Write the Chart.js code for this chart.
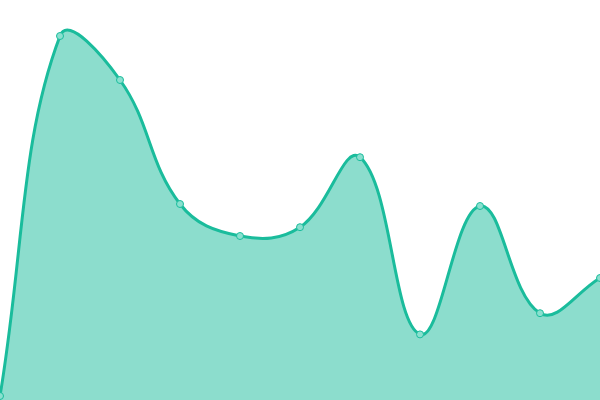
<!DOCTYPE html>
<html>
<head>
<meta charset="utf-8">
<script src="https://cdn.jsdelivr.net/npm/chart.js@4/dist/chart.umd.min.js"></script>
<style>
  html, body { margin: 0; padding: 0; background: #fff; }
  #wrap { width: 600px; height: 400px; }
</style>
</head>
<body>
<div id="wrap"><canvas id="areaChart"></canvas></div>
<script>
const labels = ['1', '2', '3', '4', '5', '6', '7', '8', '9', '10', '11'];
const values = [1, 91, 80, 49, 41, 43.2, 60.7, 16.4, 48.5, 21.7, 30.5];

document.addEventListener('DOMContentLoaded', () => {
    const ctx = document.getElementById('areaChart').getContext('2d');

    new Chart(ctx, {
        type: 'line',
        data: {
            labels: labels,
            datasets: [{
                data: values,
                borderColor: '#1abc9c',
                backgroundColor: 'rgba(26, 188, 156, 0.5)',
                borderWidth: 3,
                fill: true,
                tension: 0.4,
                pointRadius: 3.5,
                pointBorderWidth: 1,
                pointBackgroundColor: '#8ae0cf',
                pointBorderColor: '#1abc9c'
            }]
        },
        options: {
            responsive: true,
            maintainAspectRatio: false,
            animation: false,
            layout: { padding: 0, autoPadding: false },
            plugins: {
                legend: { display: false },
                tooltip: { enabled: false }
            },
            scales: {
                x: { display: false, offset: false },
                y: { display: false, min: 0, max: 100 }
            }
        }
    });
});
</script>
</body>
</html>
